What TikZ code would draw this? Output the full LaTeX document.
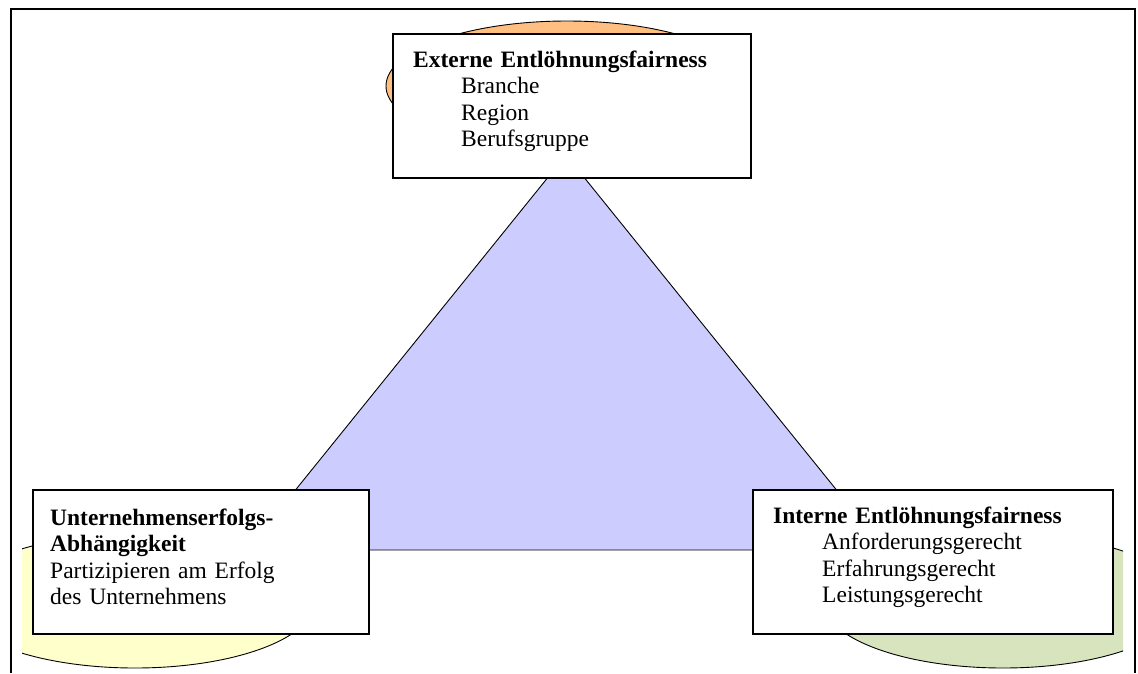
\documentclass[tikz,border=0pt]{standalone}
\usepackage{fontspec}
\setmainfont{Liberation Serif}
\usepackage{xcolor}
\usetikzlibrary{positioning}

\definecolor{extorange}{RGB}{255,191,128}
\definecolor{ueyellow}{RGB}{255,255,204}
\definecolor{intgreen}{RGB}{215,228,189}
\definecolor{fairblue}{RGB}{204,204,255}

\tikzset{
  field/.style={draw, line width=0.9pt},
  infobox/.style={draw, line width=1.6pt, fill=white, anchor=north west, inner sep=0pt},
  infotext/.style={anchor=base west, inner sep=0pt, text width=340pt, align=left,
    font=\fontsize{23.5}{26.6}\selectfont},
}

\begin{document}
\begin{tikzpicture}[x=1pt,y=-1pt]
	\useasboundingbox (0,0) rectangle (1138,673);
	% frame
	\draw[line width=1.5pt] (11,673) -- (11,9) -- (1135,9) -- (1135,673);
	% ellipses
	\draw[field, fill=extorange] (567,86) ellipse [x radius=181pt, y radius=65pt];
	\begin{scope}
		\clip (22,9) rectangle (1123,673);
		\draw[field, fill=ueyellow] (135,601) ellipse [x radius=180pt, y radius=67pt];
		\draw[field, fill=intgreen] (1003,601) ellipse [x radius=180pt, y radius=67pt];
	\end{scope}
	% triangle
	\coordinate (apex) at (566,155);
	\coordinate (baseL) at (247,550);
	\coordinate (baseR) at (885,550);
	\draw[field, fill=fairblue] (apex) -- (baseL) -- (baseR) -- cycle;
	% boxes
	\node[infobox, minimum width=358pt, minimum height=144pt] (extbox) at (392,33) {};
	\node[infobox, minimum width=336pt, minimum height=144pt] (uebox) at (32,489) {};
	\node[infobox, minimum width=360pt, minimum height=144pt] (intbox) at (752,489) {};
	% texts
	\node[infotext] (exttext) at (413,67)
		{\textbf{Externe Entlöhnungsfairness}\\
		 \hspace*{48pt}Branche\\
		 \hspace*{48pt}Region\\
		 \hspace*{48pt}Berufsgruppe};
	\node[infotext] (uetext) at (50,525)
		{\textbf{Unternehmenserfolgs-}\\
		 \textbf{Abhängigkeit}\\
		 Partizipieren am Erfolg\\
		 des Unternehmens};
	\node[infotext] (inttext) at (773,523)
		{\textbf{Interne Entlöhnungsfairness}\\
		 \hspace*{49pt}Anforderungsgerecht\\
		 \hspace*{49pt}Erfahrungsgerecht\\
		 \hspace*{49pt}Leistungsgerecht};
\end{tikzpicture}
\end{document}
